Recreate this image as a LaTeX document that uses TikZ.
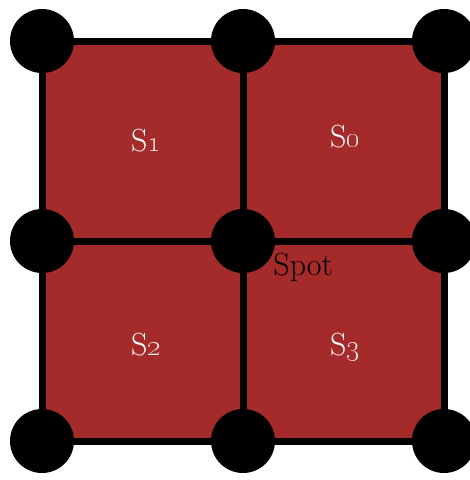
\documentclass[tikz,border=0pt]{standalone}
\usepackage{xcolor}
\usepackage{tikz}
\definecolor{CellRed}{HTML}{A52A2A}

\begin{document}
\begin{tikzpicture}[
    x=1pt, y=-1pt,
    grid/.style={line width=7pt, draw=black},
    spot/.style={circle, fill=black, minimum size=64pt, inner sep=0pt},
    cell/.style={text=white, font=\fontsize{32}{38}\selectfont},
    tag/.style={text=black, font=\fontsize{32}{38}\selectfont}
]
    \useasboundingbox (0,0) rectangle (470,480);
    % grid points
    \foreach \i/\x in {0/42, 1/243, 2/444}
        \foreach \j/\y in {0/41, 1/241, 2/441}
            \coordinate (p\i\j) at (\x,\y);

    \fill[CellRed] (p00) rectangle (p22);
    \draw[grid] (p00) rectangle (p22);
    \draw[grid] (p10) -- (p12);
    \draw[grid] (p01) -- (p21);

    \foreach \i in {0,1,2}
        \foreach \j in {0,1,2}
            \node[spot] (s\i\j) at (p\i\j) {};

    \node[cell] (sone) at (146,141) {S\oldstylenums{1}};
    \node[cell] (szero) at (345,137) {S\oldstylenums{0}};
    \node[cell] (stwo) at (146,345) {S\oldstylenums{2}};
    \node[cell] (sthree) at (345,347) {S\oldstylenums{3}};
    \node[tag, anchor=base west, inner sep=0pt, xshift=-2pt, yshift=-34pt] (spotlabel) at (s11.east) {Spot};
\end{tikzpicture}
\end{document}
